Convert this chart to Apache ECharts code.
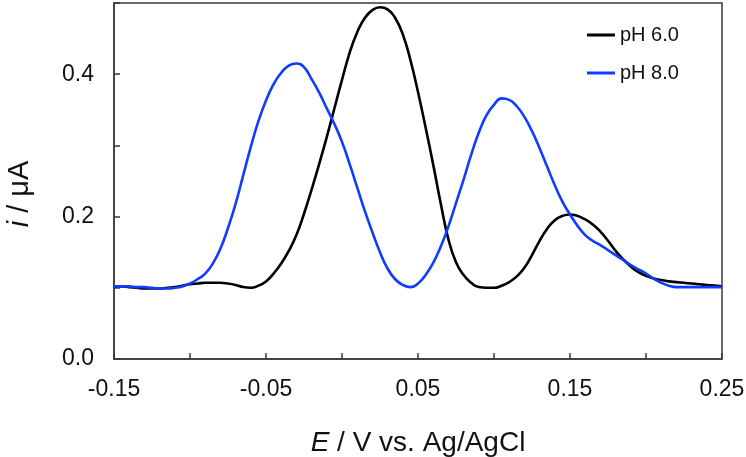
<!DOCTYPE html>
<html>
<head>
<meta charset="utf-8">
<script src="https://cdn.jsdelivr.net/npm/echarts@6/dist/echarts.min.js"></script>
<style>
html,body{margin:0;padding:0;background:#fff;}
#chart{width:746px;height:457px;}
</style>
</head>
<body>
<div id="chart"></div>
<script>
// Potential E (V vs. Ag/AgCl)
var potential = [-0.150,-0.145,-0.140,-0.135,-0.130,-0.125,-0.120,-0.115,-0.110,-0.105,
  -0.100,-0.095,-0.090,-0.085,-0.080,-0.075,-0.070,-0.065,-0.060,-0.055,
  -0.050,-0.045,-0.040,-0.035,-0.030,-0.025,-0.020,-0.015,-0.010,-0.005,
  0.000,0.005,0.010,0.015,0.020,0.025,0.030,0.035,0.040,0.045,
  0.050,0.055,0.060,0.065,0.070,0.075,0.080,0.085,0.090,0.095,
  0.100,0.105,0.110,0.115,0.120,0.125,0.130,0.135,0.140,0.145,
  0.150,0.155,0.160,0.165,0.170,0.175,0.180,0.185,0.190,0.195,
  0.200,0.205,0.210,0.215,0.220,0.225,0.230,0.235,0.240,0.245,0.250];
// Current i (µA) at pH 6.0
var currentPH6 = [0.102,0.102,0.101,0.100,0.099,0.099,0.099,0.100,0.101,0.103,
  0.105,0.106,0.107,0.107,0.107,0.106,0.104,0.101,0.100,0.103,
  0.109,0.120,0.134,0.152,0.174,0.204,0.238,0.274,0.312,0.352,
  0.392,0.430,0.459,0.479,0.490,0.494,0.491,0.479,0.456,0.420,
  0.375,0.325,0.273,0.218,0.168,0.136,0.118,0.107,0.101,0.100,
  0.100,0.103,0.108,0.116,0.128,0.146,0.166,0.183,0.195,0.201,
  0.203,0.201,0.196,0.189,0.179,0.166,0.152,0.140,0.130,0.122,
  0.117,0.113,0.111,0.109,0.108,0.107,0.106,0.105,0.104,0.103,0.102];
// Current i (µA) at pH 8.0
var currentPH8 = [0.102,0.102,0.102,0.101,0.101,0.100,0.099,0.099,0.100,0.102,
  0.106,0.112,0.120,0.134,0.155,0.184,0.218,0.258,0.298,0.334,
  0.363,0.386,0.402,0.412,0.415,0.410,0.393,0.374,0.352,0.330,
  0.305,0.274,0.241,0.208,0.178,0.150,0.127,0.112,0.104,0.101,
  0.106,0.118,0.135,0.158,0.186,0.219,0.252,0.287,0.318,0.342,
  0.357,0.366,0.364,0.355,0.340,0.320,0.296,0.270,0.244,0.221,
  0.203,0.187,0.174,0.166,0.160,0.153,0.146,0.139,0.132,0.126,
  0.120,0.113,0.107,0.103,0.101,0.101,0.101,0.101,0.101,0.101,0.101];
var seriesNames = ['pH 6.0', 'pH 8.0'];
var xTickLabels = ['-0.15', '-0.05', '0.05', '0.15', '0.25'];
var yTickLabels = ['0.0', '0.2', '0.4'];

function pairs(xs, ys) {
  return xs.map(function (x, k) { return [x, ys[k]]; });
}

var chart = echarts.init(document.getElementById('chart'), null, {renderer: 'canvas'});
var axisColor = '#3a3a3a';
var textColor = '#111';
var font = 'Liberation Sans, Arial, Helvetica, sans-serif';

chart.setOption({
  animation: false,
  backgroundColor: '#fff',
  grid: {left: 114, right: 24, top: 3, bottom: 98, show: true, outerBoundsMode: 'none',
         containLabel: false,
         borderColor: axisColor, borderWidth: 1.5, backgroundColor: 'transparent'},
  legend: {
    orient: 'vertical', left: 582, top: 20, itemGap: 18,
    icon: 'rect', itemWidth: 28, itemHeight: 3,
    textStyle: {fontFamily: font, fontSize: 20, color: textColor},
    data: seriesNames
  },
  xAxis: {
    type: 'value', min: -0.15, max: 0.25, interval: 0.05,
    name: '{it|E} / V vs. Ag/AgCl', nameLocation: 'middle', nameGap: 70,
    nameTextStyle: {fontFamily: font, fontSize: 28, color: textColor,
      rich: {it: {fontFamily: font, fontSize: 28, fontStyle: 'italic', color: textColor}}},
    axisLine: {show: true, onZero: false, lineStyle: {color: axisColor, width: 1.5}},
    axisTick: {show: true, inside: true, length: 6, lineStyle: {color: axisColor, width: 1.5}},
    splitLine: {show: false},
    axisLabel: {margin: 19, fontFamily: font, fontSize: 23, color: textColor,
      formatter: function (v) {
        var s = v.toFixed(2);
        if (s === '-0.00') s = '0.00';
        return xTickLabels.indexOf(s) >= 0 ? s : '';
      }}
  },
  yAxis: {
    type: 'value', min: 0, max: 0.5, interval: 0.1,
    name: '{it|i} / μA', nameLocation: 'middle', nameGap: 80, nameRotate: 90,
    nameTextStyle: {fontFamily: font, fontSize: 29, color: textColor, padding: [0, 26, 0, 0],
      rich: {it: {fontFamily: font, fontSize: 29, fontStyle: 'italic', color: textColor}}},
    axisLine: {show: true, onZero: false, lineStyle: {color: axisColor, width: 1.5}},
    axisTick: {show: true, inside: true, length: 6, lineStyle: {color: axisColor, width: 1.5}},
    splitLine: {show: false},
    axisLabel: {margin: 20, fontFamily: font, fontSize: 23, color: textColor,
      formatter: function (v) {
        var s = v.toFixed(1);
        return yTickLabels.indexOf(s) >= 0 ? s : '';
      }}
  },
  series: [
    {name: seriesNames[0], type: 'line', data: pairs(potential, currentPH6),
     smooth: 0.5, symbol: 'none', color: '#000000',
     lineStyle: {color: '#000000', width: 2.6}},
    {name: seriesNames[1], type: 'line', data: pairs(potential, currentPH8),
     smooth: 0.5, symbol: 'none', color: '#0f3cff',
     lineStyle: {color: '#0f3cff', width: 2.6}}
  ]
});
</script>
</body>
</html>
